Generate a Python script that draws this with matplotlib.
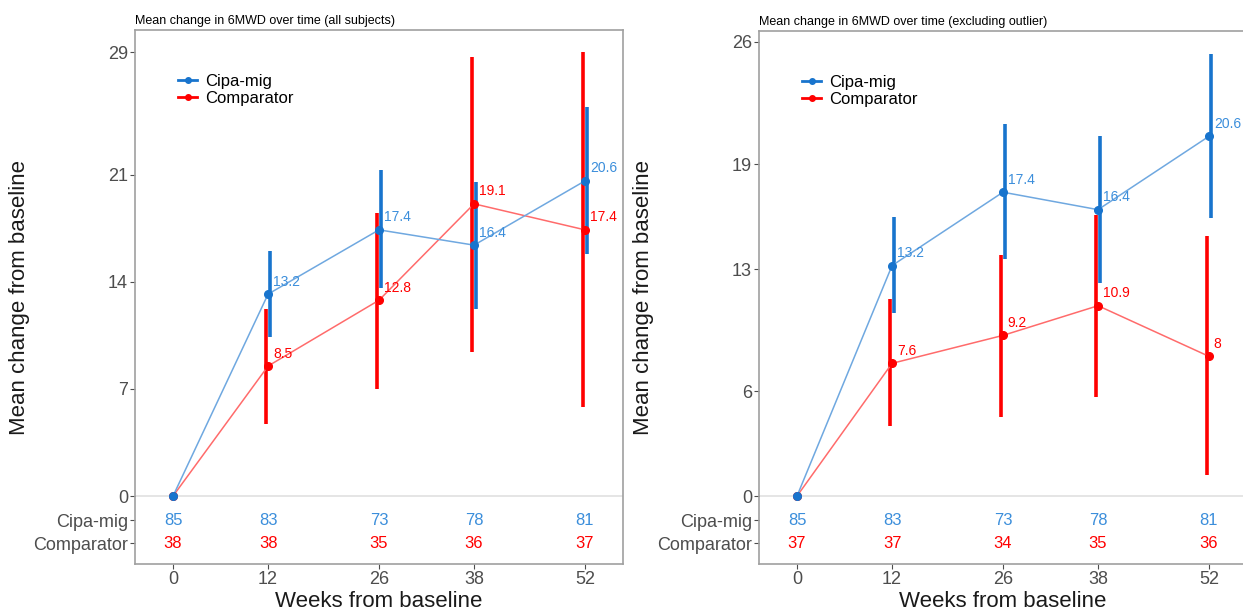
import numpy as np
import matplotlib.pyplot as plt

plt.rcParams['font.family'] = ['Liberation Sans', 'DejaVu Sans']

weeks = [0, 12, 26, 38, 52]
week_labels = ['0', '12', '26', '38', '52']

# all subjects
cipa_all = [0, 13.2, 17.4, 16.4, 20.6]
cipa_all_lo = [0, 10.4, 13.6, 12.2, 15.8]
cipa_all_hi = [0, 16.0, 21.3, 20.5, 25.4]
comp_all = [0, 8.5, 12.8, 19.1, 17.4]
comp_all_lo = [0, 4.7, 7.0, 9.4, 5.8]
comp_all_hi = [0, 12.2, 18.5, 28.7, 29.0]
n_cipa_all = [85, 83, 73, 78, 81]
n_comp_all = [38, 38, 35, 36, 37]
yticks_all = [0, 7, 14, 21, 29]

# excluding outlier
cipa_ex = [0, 13.2, 17.4, 16.4, 20.6]
cipa_ex_lo = [0, 10.5, 13.6, 12.2, 15.9]
cipa_ex_hi = [0, 16.0, 21.3, 20.6, 25.3]
comp_ex = [0, 7.6, 9.2, 10.9, 8]
comp_ex_lo = [0, 4.0, 4.5, 5.7, 1.2]
comp_ex_hi = [0, 11.3, 13.8, 16.1, 14.9]
n_cipa_ex = [85, 83, 73, 78, 81]
n_comp_ex = [37, 37, 34, 35, 36]
yticks_ex = [0, 6, 13, 19, 26]

BLUE = '#1874CD'
BLUE_LINE = '#6FA8E0'
BLUE_TXT = '#3B8EDB'
RED = '#FF0000'
RED_LINE = '#FF6B6B'
GRAY = '#4D4D4D'


def fmt(v):
    return ('%g' % v)


def panel(ax, title, cipa, cipa_lo, cipa_hi, comp, comp_lo, comp_hi,
          n_cipa, n_comp, yticks, rows, ylim):
    ax.axhline(0, color='#E0E0E0', lw=1.2, zorder=0)
    x = np.array(weeks)
    # small dodge so both bars stay visible
    ax.vlines(x[1:] - 0.2, np.array(comp_lo)[1:], np.array(comp_hi)[1:],
              color=RED, lw=2.6, zorder=2)
    ax.vlines(x[1:] + 0.2, np.array(cipa_lo)[1:], np.array(cipa_hi)[1:],
              color=BLUE, lw=2.6, zorder=3)
    ax.plot(x, comp, color=RED_LINE, lw=1.1, zorder=2)
    ax.plot(x, cipa, color=BLUE_LINE, lw=1.1, zorder=3)
    ax.plot(x, comp, 'o', color=RED, ms=5.5, zorder=4, label='Comparator')
    ax.plot(x, cipa, 'o', color=BLUE, ms=5.5, zorder=5, label='Cipa-mig')
    for xi, v in zip(x[1:], cipa[1:]):
        ax.annotate(fmt(v), (xi, v), xytext=(3.5, 9), textcoords='offset points',
                    ha='left', va='center', color=BLUE_TXT, fontsize=10)
    for xi, v in zip(x[1:], comp[1:]):
        ax.annotate(fmt(v), (xi, v), xytext=(3.5, 9), textcoords='offset points',
                    ha='left', va='center', color=RED, fontsize=10)
    # numbers at risk
    for xi, a, b in zip(x, n_cipa, n_comp):
        ax.text(xi, rows[0], str(a), ha='center', va='center', color=BLUE_TXT, fontsize=12)
        ax.text(xi, rows[1], str(b), ha='center', va='center', color=RED, fontsize=12)

    ax.set_xlim(-4.8, 56.8)
    ax.set_ylim(*ylim)
    ax.set_xticks(weeks)
    ax.set_xticklabels(week_labels)
    ax.set_yticks(list(rows) + yticks)
    ax.set_yticklabels(['Cipa-mig', 'Comparator'] + [str(t) for t in yticks])
    ax.tick_params(colors=GRAY, labelsize=13, length=3.5, width=0.8, pad=1.5)
    for s in ax.spines.values():
        s.set_color('#A0A0A0')
        s.set_linewidth(1.2)
    ax.set_title(title, loc='left', fontsize=9, pad=4)
    ax.set_xlabel('Weeks from baseline', fontsize=16, color='#1A1A1A')
    ax.set_ylabel('Mean change from baseline', fontsize=16, color='#1A1A1A')
    ax.xaxis.set_label_coords(0.5, -0.05)
    ax.yaxis.set_label_coords(-0.215, 0.5)
    h, l = ax.get_legend_handles_labels()
    order = [1, 0]
    handles = []
    for i in order:
        line = plt.Line2D([], [], color=h[i].get_color(), marker='o', ms=4, lw=2)
        handles.append(line)
    ax.legend(handles, [l[i] for i in order], loc='upper left',
              bbox_to_anchor=(0.065, 0.94), frameon=False, fontsize=12,
              handlelength=1.1, handletextpad=0.5, labelspacing=0.15,
              borderpad=0.2)


fig = plt.figure(figsize=(12.43, 6.15), dpi=100)
ax1 = fig.add_axes([0.1086, 0.0829, 0.3926, 0.8683])
ax2 = fig.add_axes([0.6106, 0.0829, 0.3926, 0.8667])

panel(ax1, 'Mean change in 6MWD over time (all subjects)',
      cipa_all, cipa_all_lo, cipa_all_hi, comp_all, comp_all_lo, comp_all_hi,
      n_cipa_all, n_comp_all, yticks_all, (-1.57, -3.07), (-4.44, 30.46))
panel(ax2, 'Mean change in 6MWD over time (excluding outlier)',
      cipa_ex, cipa_ex_lo, cipa_ex_hi, comp_ex, comp_ex_lo, comp_ex_hi,
      n_cipa_ex, n_comp_ex, yticks_ex, (-1.37, -2.70), (-3.89, 26.63))

fig.savefig('out.png', dpi=100)
